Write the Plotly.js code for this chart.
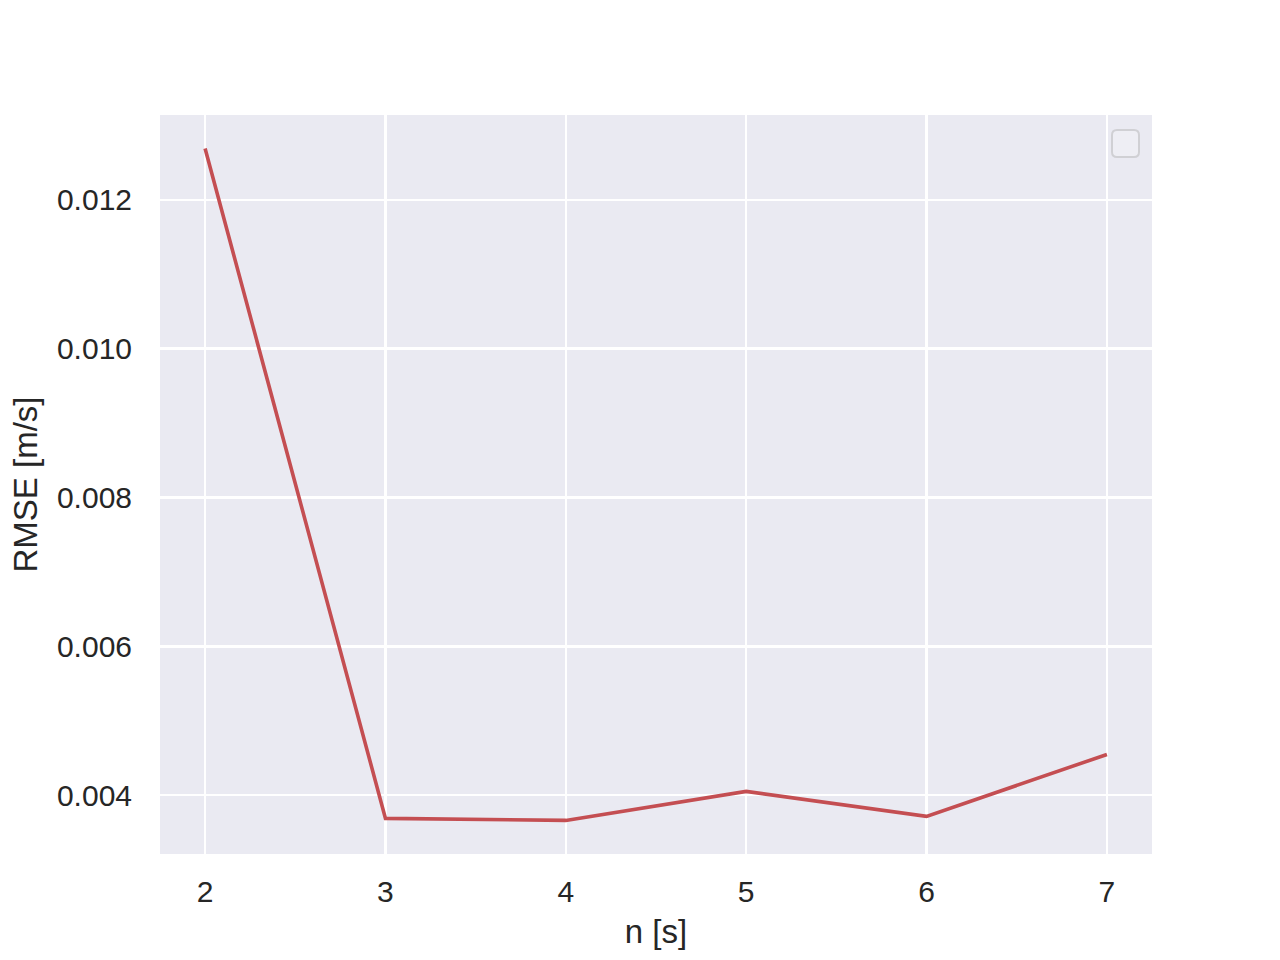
<!DOCTYPE html>
<html>
<head>
<meta charset="utf-8">
<script src="https://cdn.plot.ly/plotly-3.0.1.min.js"></script>
<style>
  body { margin: 0; background: #fff; }
  #chart { width: 1280px; height: 960px; }
</style>
</head>
<body>
<div id="chart"></div>
<script>
// window length vs error
const nValues = [2, 3, 4, 5, 6, 7];
const rmseValues = [0.012685, 0.003691, 0.003664, 0.004054, 0.003718, 0.004550];
const yTicks = [0.004, 0.006, 0.008, 0.010, 0.012];
const yTickText = ['0.004', '0.006', '0.008', '0.010', '0.012'];

const textColor = '#262626';
const fontFamily = 'Arial, "Liberation Sans", sans-serif';

var trace = {
  x: nValues,
  y: rmseValues,
  type: 'scatter',
  mode: 'lines',
  line: { color: '#C44E52', width: 3.6 },
  showlegend: false
};

// empty legend frame in the top right corner (px -> paper)
const plotW = 992, plotH = 739;
function px(x) { return x / plotW; }
function py(y) { return 1 - y / plotH; }
const bx0 = 1112 - 160, bx1 = 1139 - 160, by0 = 130 - 115, by1 = 157 - 115, r = 5;
const legendPath =
  'M ' + px(bx0 + r) + ' ' + py(by0) +
  ' L ' + px(bx1 - r) + ' ' + py(by0) +
  ' Q ' + px(bx1) + ' ' + py(by0) + ' ' + px(bx1) + ' ' + py(by0 + r) +
  ' L ' + px(bx1) + ' ' + py(by1 - r) +
  ' Q ' + px(bx1) + ' ' + py(by1) + ' ' + px(bx1 - r) + ' ' + py(by1) +
  ' L ' + px(bx0 + r) + ' ' + py(by1) +
  ' Q ' + px(bx0) + ' ' + py(by1) + ' ' + px(bx0) + ' ' + py(by1 - r) +
  ' L ' + px(bx0) + ' ' + py(by0 + r) +
  ' Q ' + px(bx0) + ' ' + py(by0) + ' ' + px(bx0 + r) + ' ' + py(by0) + ' Z';

var layout = {
  width: 1280,
  height: 960,
  margin: { l: 160, r: 128, t: 115, b: 106 },
  paper_bgcolor: '#ffffff',
  plot_bgcolor: '#EAEAF2',
  font: { family: fontFamily, color: textColor, size: 30 },
  xaxis: {
    range: [1.75, 7.25],
    tickvals: nValues,
    showgrid: true,
    gridcolor: '#ffffff',
    gridwidth: 2.2,
    zeroline: false,
    showline: false,
    ticks: 'outside',
    ticklen: 11,
    tickcolor: 'rgba(0,0,0,0)',
    tickfont: { size: 30, color: textColor },
    title: { text: 'n [s]', font: { size: 33, color: textColor }, standoff: 12 },
    automargin: false
  },
  yaxis: {
    range: [0.003213, 0.013136],
    tickvals: yTicks,
    ticktext: yTickText,
    showgrid: true,
    gridcolor: '#ffffff',
    gridwidth: 2.2,
    zeroline: false,
    showline: false,
    ticks: 'outside',
    ticklen: 21,
    tickcolor: 'rgba(0,0,0,0)',
    tickfont: { size: 30, color: textColor },
    title: { text: 'RMSE [m/s]', font: { size: 33, color: textColor }, standoff: 9 },
    automargin: false
  },
  shapes: [{
    type: 'path',
    xref: 'paper',
    yref: 'paper',
    path: legendPath,
    fillcolor: 'rgba(255,255,255,0.2)',
    line: { color: '#D0D0D4', width: 2 }
  }]
};

Plotly.newPlot('chart', [trace], layout, { displayModeBar: false, staticPlot: true });
</script>
</body>
</html>
